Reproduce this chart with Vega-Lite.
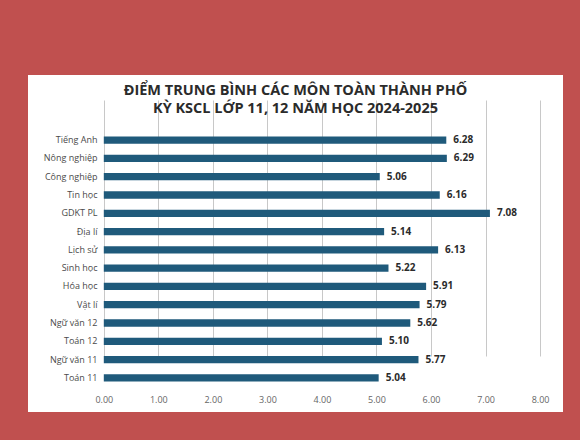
{
  "$schema": "https://vega.github.io/schema/vega-lite/v6.json",
  "width": 535,
  "height": 337,
  "autosize": {"type": "none"},
  "padding": {"left": 28, "top": 75, "right": 17, "bottom": 28},
  "background": "#c0504f",
  "title": {
    "text": ["ĐIỂM TRUNG BÌNH CÁC MÔN TOÀN THÀNH PHỐ", "KỲ KSCL LỚP 11, 12 NĂM HỌC 2024-2025"],
    "font": "Open Sans",
    "fontSize": 14.5,
    "fontWeight": "bold",
    "color": "#2b2b2b",
    "anchor": "middle",
    "offset": -41,
    "lineHeight": 18
  },
  "config": {
    "view": {"fill": "white", "stroke": null},
    "font": "Open Sans"
  },
  "data": {
    "values": [
      {"mon": "Tiếng Anh", "diem": 6.28},
      {"mon": "Nông nghiệp", "diem": 6.29},
      {"mon": "Công nghiệp", "diem": 5.06},
      {"mon": "Tin học", "diem": 6.16},
      {"mon": "GDKT PL", "diem": 7.08},
      {"mon": "Địa lí", "diem": 5.14},
      {"mon": "Lịch sử", "diem": 6.13},
      {"mon": "Sinh học", "diem": 5.22},
      {"mon": "Hóa học", "diem": 5.91},
      {"mon": "Vật lí", "diem": 5.79},
      {"mon": "Ngữ văn 12", "diem": 5.62},
      {"mon": "Toán 12", "diem": 5.10},
      {"mon": "Ngữ văn 11", "diem": 5.77},
      {"mon": "Toán 11", "diem": 5.04}
    ]
  },
  "encoding": {
    "y": {
      "field": "mon",
      "type": "nominal",
      "sort": null,
      "title": null,
      "scale": {
        "domain": ["Tiếng Anh", "Nông nghiệp", "Công nghiệp", "Tin học", "GDKT PL", "Địa lí", "Lịch sử", "Sinh học", "Hóa học", "Vật lí", "Ngữ văn 12", "Toán 12", "Ngữ văn 11", "Toán 11"],
        "range": [56, 312],
        "paddingInner": 0.6,
        "paddingOuter": 0.3
      },
      "axis": {
        "domain": false,
        "ticks": false,
        "offset": -74,
        "labelPadding": 5,
        "labelFontSize": 9,
        "labelColor": "#4a4a4a"
      }
    }
  },
  "layer": [
    {
      "mark": {"type": "bar", "color": "#1f5a7b"},
      "encoding": {
        "x": {
          "field": "diem",
          "type": "quantitative",
          "title": null,
          "scale": {"domain": [-1.39, 8.42], "nice": false, "zero": false},
          "axis": {
            "values": [0, 1, 2, 3, 4, 5, 6, 7, 8],
            "format": ".2f",
            "domain": false,
            "ticks": false,
            "grid": true,
            "gridColor": "#c8c8c8",
            "offset": -20,
            "labelPadding": 3,
            "labelFontSize": 9,
            "labelColor": "#666666"
          }
        }
      }
    },
    {
      "mark": {"type": "text", "align": "left", "dx": 7, "fontSize": 10, "fontWeight": "bold", "color": "#2b2b2b"},
      "encoding": {
        "x": {"field": "diem", "type": "quantitative"},
        "text": {"field": "diem", "type": "quantitative", "format": ".2f"}
      }
    }
  ]
}
